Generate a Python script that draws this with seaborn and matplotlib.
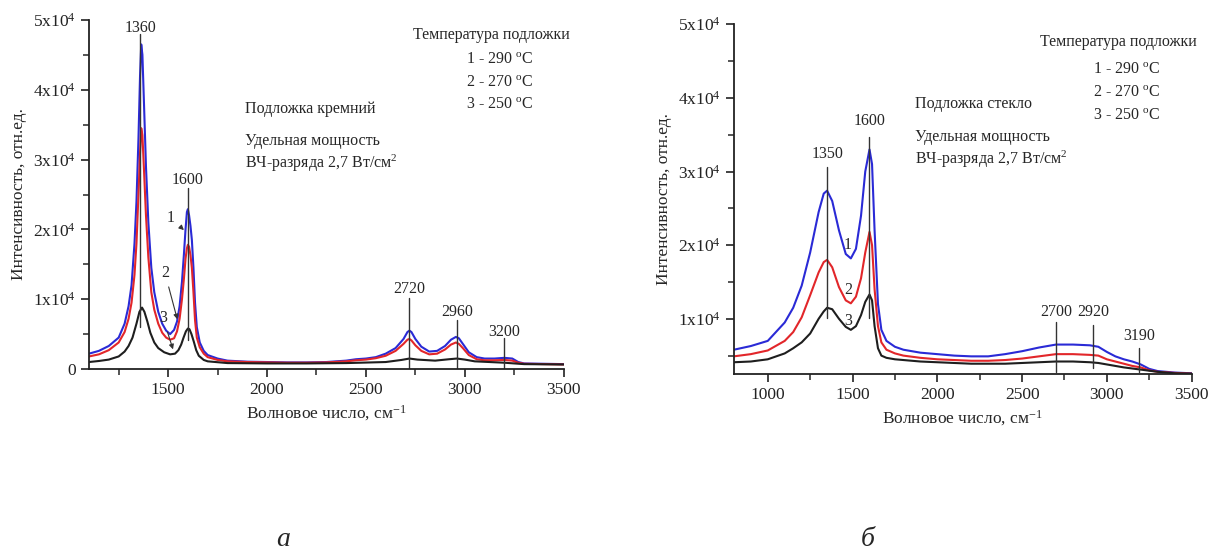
import numpy as np
import pandas as pd
import matplotlib
matplotlib.use("Agg")
import matplotlib.pyplot as plt
import seaborn as sns
from matplotlib.ticker import AutoMinorLocator, FuncFormatter

# ---- panel a: silicon substrate ----
si_x1 = [1100, 1150, 1200, 1250, 1280, 1300, 1315, 1330, 1340, 1350,
         1358, 1364, 1370, 1378, 1388, 1400, 1415, 1430, 1450, 1470,
         1490, 1510, 1530, 1545, 1558, 1570, 1580, 1588, 1595, 1600,
         1606, 1613, 1620, 1628, 1636, 1645, 1660, 1680,
         1700, 1750, 1800, 1900, 2000, 2100, 2200, 2300, 2400, 2450,
         2500, 2550, 2600, 2650, 2690, 2710, 2720, 2730, 2750, 2780,
         2820, 2860, 2900, 2930, 2955, 2970, 2990, 3020, 3060, 3100,
         3150, 3200, 3240, 3270, 3300, 3400, 3500]
si_blue = [2200, 2600, 3300, 4500, 6500, 9000, 12000, 18000, 24000, 33000,
           42000, 46500, 45000, 38000, 29000, 21000, 14500, 11000, 8200, 6500,
           5500, 5000, 5600, 6800, 9000, 12500, 16500, 20000, 22500, 22900,
           22000, 20500, 18500, 14500, 9500, 6000, 3800, 2600,
           2000, 1500, 1200, 1050, 1000, 950, 950, 1000, 1200, 1400,
           1500, 1700, 2200, 3000, 4300, 5300, 5500, 5300, 4300, 3200,
           2500, 2600, 3300, 4200, 4600, 4400, 3600, 2400, 1700, 1500,
           1500, 1600, 1500, 1000, 800, 750, 700]
si_red = [1800, 2100, 2700, 3800, 5300, 7200, 9500, 13500, 18000, 25000,
          31000, 34500, 33500, 28500, 22000, 16000, 11000, 8500, 6500, 5200,
          4500, 4200, 4400, 5400, 7200, 10000, 13000, 15800, 17300, 17800,
          17500, 16300, 14500, 11000, 7000, 4500, 3100, 2200,
          1700, 1300, 1100, 1000, 950, 900, 900, 950, 1100, 1250,
          1350, 1550, 1900, 2600, 3600, 4200, 4300, 4100, 3400, 2600,
          2100, 2200, 2800, 3500, 3800, 3600, 3000, 2000, 1400, 1250,
          1250, 1300, 1200, 900, 750, 700, 650]
si_x3 = [1100, 1150, 1200, 1250, 1280, 1300, 1320, 1340, 1355, 1368,
         1380, 1395, 1410, 1430, 1450, 1480, 1510, 1535, 1552, 1566,
         1578, 1590, 1600, 1608, 1618, 1630, 1642, 1655, 1680,
         1700, 1800, 2000, 2200, 2400, 2600, 2680, 2720, 2760, 2850,
         2920, 2960, 3000, 3050, 3200, 3300, 3500]
si_black = [1000, 1150, 1350, 1800, 2500, 3300, 4500, 6500, 8200, 8800,
            8200, 6800, 5200, 3800, 3000, 2400, 2100, 2200, 2700, 3500,
            4500, 5400, 5800, 5700, 5000, 3900, 2700, 1900, 1300,
            1100, 850, 800, 800, 850, 1000, 1300, 1500, 1350, 1200,
            1400, 1500, 1350, 1100, 900, 700, 650]
si_peaks = [1360, 1600, 2720, 2960, 3200]
si_peak_lines = [(6000, 48000), (4150, 25900), (0, 10170), (0, 7000), (0, 4400)]
si_peak_text_y = [48900, 27100, 11500, 8200, 5300]

# ---- panel b: glass substrate ----
gl_x = [800, 900, 1000, 1100, 1150, 1200, 1250, 1300, 1330, 1350, 1380, 1420, 1460, 1490, 1520,
        1550, 1575, 1600, 1615, 1630, 1650, 1670, 1700, 1750, 1800, 1900, 2000, 2100, 2200, 2300,
        2400, 2500, 2600, 2700, 2800, 2900, 2950, 3000, 3050, 3100, 3150, 3200, 3250, 3300, 3400, 3500]
gl_blue = [5800, 6300, 7000, 9500, 11500, 14500, 19000, 24500, 27000, 27400, 26000, 22000, 18800, 18200, 19500,
           24000, 30000, 33000, 31000, 22000, 12000, 8500, 7000, 6200, 5800, 5400, 5200, 5000, 4900, 4900,
           5200, 5600, 6100, 6500, 6500, 6400, 6200, 5500, 4900, 4500, 4200, 3800, 3200, 2900, 2700, 2600]
gl_red = [4900, 5200, 5700, 7000, 8200, 10200, 13200, 16300, 17700, 18000, 17000, 14300, 12500, 12100, 13000,
          15500, 19000, 21800, 20000, 14000, 9000, 6800, 5800, 5300, 5000, 4700, 4500, 4400, 4300, 4300,
          4400, 4600, 4900, 5200, 5200, 5100, 5000, 4500, 4200, 3900, 3600, 3400, 3000, 2800, 2650, 2550]
gl_black = [4100, 4200, 4500, 5300, 6000, 6800, 8000, 10000, 11000, 11500, 11300, 10000, 8900, 8500, 9000,
            10500, 12300, 13300, 12500, 9000, 6000, 5000, 4700, 4500, 4400, 4200, 4100, 4000, 3900, 3900,
            3900, 4000, 4100, 4200, 4200, 4100, 4000, 3800, 3600, 3400, 3250, 3100, 2950, 2800, 2600, 2550]
gl_peaks = [1350, 1600, 2700, 2920, 3190]
gl_peak_lines = [(10100, 30600), (10100, 34700), (2770, 9560), (3310, 9150), (2770, 6030)]
gl_peak_text_y = [32350, 36830, 10910, 10910, 7660]

temps = ["1 - 290 $^{\\mathrm{o}}$C", "2 - 270 $^{\\mathrm{o}}$C", "3 - 250 $^{\\mathrm{o}}$C"]
colors = ["#2a2ad6", "#e2262a", "#1e1e1e"]

sns.set_theme(style="ticks")
plt.rcParams["font.family"] = ["Liberation Serif", "DejaVu Serif"]
plt.rcParams["mathtext.fontset"] = "custom"
plt.rcParams["mathtext.rm"] = "Liberation Serif"
plt.rcParams["mathtext.it"] = "Liberation Serif:italic"
plt.rcParams["axes.linewidth"] = 1.3
plt.rcParams["xtick.direction"] = "out"
plt.rcParams["ytick.direction"] = "out"

fig = plt.figure(figsize=(12.11, 5.57), dpi=100)
fig.patch.set_facecolor("white")
ax1 = fig.add_axes([0.0735, 0.3375, 0.392, 0.6266])
ax2 = fig.add_axes([0.606, 0.3285, 0.378, 0.628])

FS = 11.5


def ytick_fmt(v, pos):
    if v == 0:
        return "0"
    return r"$\mathrm{%dx10^{4}}$" % round(v / 1e4)


def style_axes(ax, xlim, ylim, xticks, yticks):
    ax.set_xlim(*xlim)
    ax.set_ylim(*ylim)
    ax.set_xticks(xticks)
    ax.set_yticks(yticks)
    ax.xaxis.set_minor_locator(AutoMinorLocator(2))
    ax.yaxis.set_minor_locator(AutoMinorLocator(2))
    ax.yaxis.set_major_formatter(FuncFormatter(ytick_fmt))
    ax.tick_params(which="major", length=6, width=1.2, labelsize=12.5, colors="#222222")
    ax.tick_params(which="minor", length=4, width=1.1)
    for s in ["top", "right"]:
        ax.spines[s].set_visible(False)
    for s in ["left", "bottom"]:
        ax.spines[s].set_color("#222222")
    ax.set_xlabel("Волновое число, см$^{-1}$", fontsize=12.5, labelpad=4)
    ax.set_ylabel("Интенсивность, отн.ед.", fontsize=12.5, labelpad=4)
    ax.set_facecolor("white")


def draw_curves(ax, xs, ys):
    for i, (x, y) in enumerate(zip(xs, ys)):
        df = pd.DataFrame({"x": x, "y": y})
        sns.lineplot(data=df, x="x", y="y", ax=ax, color=colors[i], linewidth=1.5,
                     sort=False, estimator=None)


# panel a
draw_curves(ax1, [si_x1, si_x1, si_x3], [si_blue, si_red, si_black])
style_axes(ax1, (1100, 3500), (0, 50000), [1500, 2000, 2500, 3000, 3500],
           [0, 10000, 20000, 30000, 40000, 50000])
for p, (y0, y1), ty in zip(si_peaks, si_peak_lines, si_peak_text_y):
    ax1.plot([p, p], [y0, y1], color="#333333", lw=1.0)
    ax1.text(p, ty, str(p), ha="center", va="center", fontsize=FS)
ax1.text(2736, 47860, "Температура подложки", fontsize=FS, va="center")
for t, y in zip(temps, [44280, 40980, 37830]):
    ax1.text(3004, y, t, fontsize=FS, va="center")
ax1.text(1888, 37260, "Подложка кремний", fontsize=FS, va="center")
ax1.text(1888, 32670, "Удельная мощность", fontsize=FS, va="center")
ax1.text(1888, 29520, "ВЧ-разряда 2,7 Вт/см$^{2}$", fontsize=FS, va="center")
arrow = dict(arrowstyle="-|>", color="#333333", lw=0.8, mutation_scale=7)
ax1.annotate("1", xy=(1590, 19630), xytext=(1514, 21640), fontsize=FS,
             ha="center", va="center", arrowprops=arrow)
ax1.annotate("2", xy=(1550, 6740), xytext=(1484, 13760), fontsize=FS,
             ha="center", va="center", arrowprops=arrow)
ax1.annotate("3", xy=(1529, 2440), xytext=(1474, 7310), fontsize=FS,
             ha="center", va="center", arrowprops=arrow)

# panel b
draw_curves(ax2, [gl_x, gl_x, gl_x], [gl_blue, gl_red, gl_black])
style_axes(ax2, (800, 3500), (2500, 50000), [1000, 1500, 2000, 2500, 3000, 3500],
           [10000, 20000, 30000, 40000, 50000])
for p, (y0, y1), ty in zip(gl_peaks, gl_peak_lines, gl_peak_text_y):
    ax2.plot([p, p], [y0, y1], color="#333333", lw=1.0)
    ax2.text(p, ty, str(p), ha="center", va="center", fontsize=FS)
ax2.text(2604, 47550, "Температура подложки", fontsize=FS, va="center")
for t, y in zip(temps, [43750, 40630, 37510]):
    ax2.text(2917, y, t, fontsize=FS, va="center")
ax2.text(1867, 39140, "Подложка стекло", fontsize=FS, va="center")
ax2.text(1867, 34660, "Удельная мощность", fontsize=FS, va="center")
ax2.text(1867, 31680, "ВЧ-разряда 2,7 Вт/см$^{2}$", fontsize=FS, va="center")
for lbl, y in zip(["1", "2", "3"], [20000, 13900, 9690]):
    ax2.text(1472, y, lbl, fontsize=FS, ha="center", va="center")

# panel letters
fig.text(283 / 1211, 1 - 540 / 557, "а", fontsize=20, style="italic", ha="center", va="center")
fig.text(868 / 1211, 1 - 540 / 557, "б", fontsize=20, style="italic", ha="center", va="center")

fig.savefig("out.png", dpi=100, facecolor="white")
